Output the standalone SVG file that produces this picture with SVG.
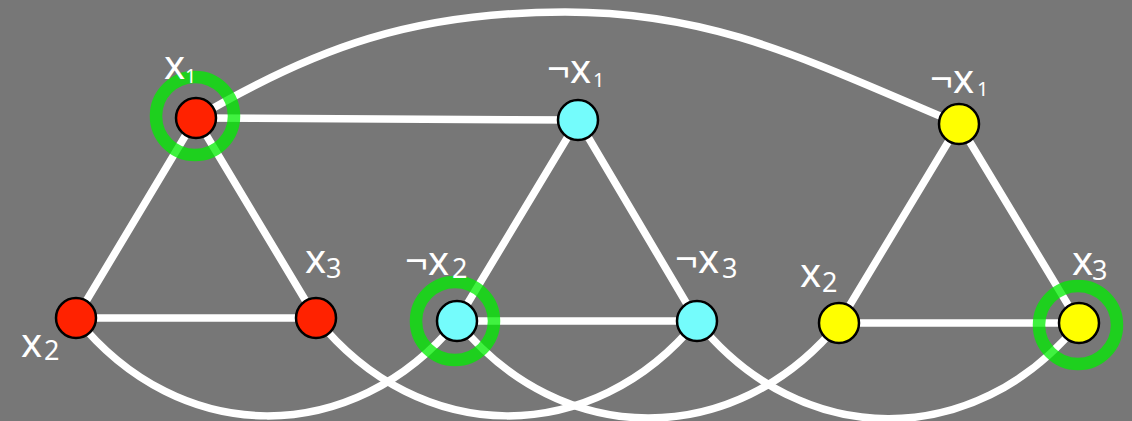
<svg xmlns="http://www.w3.org/2000/svg" width="1132" height="421" viewBox="0 0 1132 421">
<style>
.edge{fill:none;stroke:#ffffff;stroke-width:7.5;stroke-linecap:round}
.ring{fill:none;stroke:#00ee00;stroke-opacity:0.75;stroke-width:12.5}
.node{stroke:#000000;stroke-width:2.5}
.red{fill:#ff2200}
.cyan{fill:#74fcfc}
.yellow{fill:#ffff00}
.lbl{fill:#ffffff;font-family:"Noto Sans","DejaVu Sans",sans-serif;font-size:40px}
.sub{font-size:27px}
.sub1{font-size:20px}
</style>
<rect x="0" y="0" width="1132" height="421" fill="#777777"/>
<g id="connectors">
<line class="edge" x1="196" y1="118" x2="578" y2="120"/>
<line class="edge" x1="196" y1="118" x2="76" y2="318"/>
<line class="edge" x1="196" y1="118" x2="316" y2="318"/>
<line class="edge" x1="76" y1="318" x2="316" y2="318"/>
<line class="edge" x1="578" y1="120" x2="457" y2="321"/>
<line class="edge" x1="578" y1="120" x2="697" y2="321"/>
<line class="edge" x1="457" y1="321" x2="697" y2="321"/>
<line class="edge" x1="959" y1="124" x2="839" y2="323"/>
<line class="edge" x1="959" y1="124" x2="1079" y2="323"/>
<line class="edge" x1="839" y1="323" x2="1079" y2="323"/>
<path class="edge" d="M196,118 C316,47 415,12 565,12 C715,12 809,61 959,124"/>
<path class="edge" d="M76,318 C180,448 353,448 457,321"/>
<path class="edge" d="M316,318 C420,448 593,448 697,321"/>
<path class="edge" d="M457,321 C561,450 735,450 839,323"/>
<path class="edge" d="M697,321 C801,451 975,451 1079,323"/>
</g>
<g id="n-x1-red">
<circle class="ring" cx="195" cy="116" r="39"/>
<circle class="node red" cx="196" cy="118" r="20"/>
<text class="lbl"><tspan x="164" y="79">x</tspan><tspan class="sub1" x="185" y="83">1</tspan></text>
</g>
<g id="n-x2-red">
<circle class="node red" cx="76" cy="318" r="20"/>
<text class="lbl"><tspan x="21" y="357">x</tspan><tspan class="sub" x="44" y="360">2</tspan></text>
</g>
<g id="n-x3-red">
<circle class="node red" cx="316" cy="318" r="20"/>
<text class="lbl"><tspan x="305" y="273">x</tspan><tspan class="sub" x="326" y="278">3</tspan></text>
</g>
<g id="n-nx1-cyan">
<circle class="node cyan" cx="578" cy="120" r="20"/>
<text class="lbl"><tspan x="547" y="83">¬x</tspan><tspan class="sub1" x="593" y="87">1</tspan></text>
</g>
<g id="n-nx2-cyan">
<circle class="ring" cx="455" cy="321" r="39"/>
<circle class="node cyan" cx="457" cy="321" r="20"/>
<text class="lbl"><tspan x="405" y="275">¬x</tspan><tspan class="sub" x="452" y="278">2</tspan></text>
</g>
<g id="n-nx3-cyan">
<circle class="node cyan" cx="697" cy="321" r="20"/>
<text class="lbl"><tspan x="675" y="273">¬x</tspan><tspan class="sub" x="722" y="278">3</tspan></text>
</g>
<g id="n-nx1-yellow">
<circle class="node yellow" cx="959" cy="124" r="20"/>
<text class="lbl"><tspan x="930" y="93">¬x</tspan><tspan class="sub1" x="977" y="96">1</tspan></text>
</g>
<g id="n-x2-yellow">
<circle class="node yellow" cx="839" cy="323" r="20"/>
<text class="lbl"><tspan x="800" y="287">x</tspan><tspan class="sub" x="822" y="292">2</tspan></text>
</g>
<g id="n-x3-yellow">
<circle class="ring" cx="1078" cy="325" r="39"/>
<circle class="node yellow" cx="1079" cy="323" r="20"/>
<text class="lbl"><tspan x="1072" y="275">x</tspan><tspan class="sub" x="1092" y="280">3</tspan></text>
</g>
</svg>
